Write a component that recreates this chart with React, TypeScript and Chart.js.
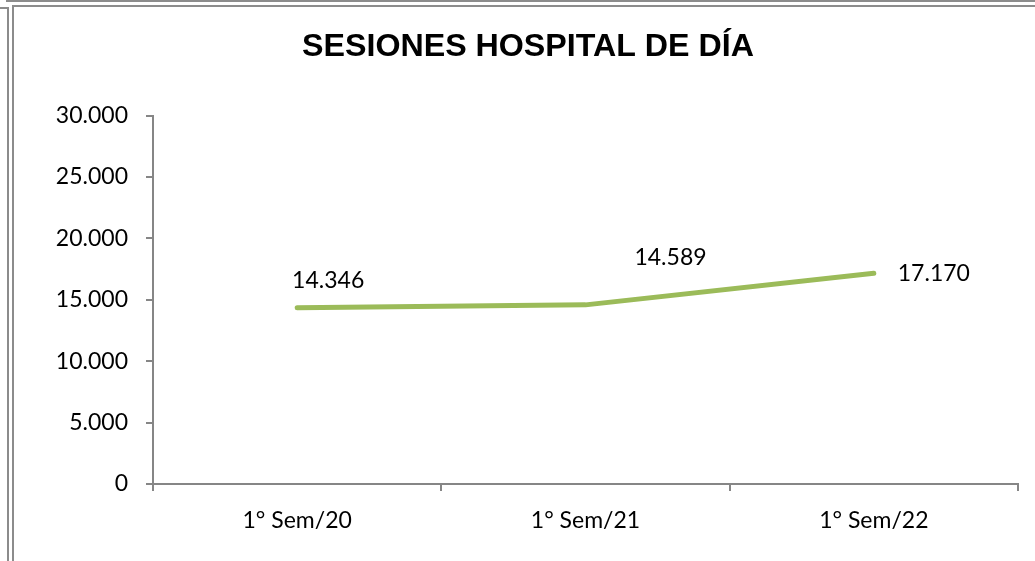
import React, { useEffect, useRef } from "react";
import { Chart, registerables } from "chart.js";

Chart.register(...registerables);

const categories = ["1° Sem/20", "1° Sem/21", "1° Sem/22"];
const sesiones = [14346, 14589, 17170];
const yTicks = [0, 5000, 10000, 15000, 20000, 25000, 30000];
const labelOffsets = [
  [31, -27],
  [85, -47],
  [60, 0],
];

const fmt = (v: number) => {
  const s = Math.round(v).toString();
  return s.replace(/\B(?=(\d{3})+(?!\d))/g, ".");
};

const FONT = "Lato, 'Open Sans', sans-serif";

const dataLabels = {
  id: "dataLabels",
  afterDatasetsDraw(chart: any) {
    const ctx = chart.ctx;
    const meta = chart.getDatasetMeta(0);
    ctx.save();
    ctx.font = `23px ${FONT}`;
    ctx.fillStyle = "#000";
    ctx.textAlign = "center";
    ctx.textBaseline = "middle";
    meta.data.forEach((pt: any, i: number) => {
      const [dx, dy] = labelOffsets[i];
      ctx.fillText(fmt(sesiones[i]), pt.x + dx, pt.y + dy);
    });
    ctx.restore();
  },
};

export default function App() {
  const ref = useRef<HTMLCanvasElement>(null);
  useEffect(() => {
    if (!ref.current) return;
    const chart = new Chart(ref.current, {
      type: "line",
      data: {
        labels: categories,
        datasets: [
          {
            data: sesiones,
            borderColor: "#9BBB59",
            borderWidth: 5,
            borderCapStyle: "round",
            borderJoinStyle: "round",
            pointRadius: 0,
            tension: 0,
            fill: false,
          },
        ],
      },
      options: {
        animation: false,
        responsive: false,
        maintainAspectRatio: false,
        layout: { padding: { left: 38, right: 17, top: 0, bottom: 0 } },
        plugins: {
          legend: { display: false },
          tooltip: { enabled: false },
          title: {
            display: true,
            text: "SESIONES HOSPITAL DE DÍA",
            color: "#000",
            font: { family: "'Liberation Sans', Arial, sans-serif", size: 32.2, weight: "bold", lineHeight: 1.2 },
            padding: { top: 28, bottom: 49 },
          },
        },
        scales: {
          x: {
            type: "category",
            offset: true,
            grid: {
              offset: true,
              drawOnChartArea: false,
              drawTicks: true,
              tickLength: 7,
              color: "#868686",
              lineWidth: 2,
            },
            border: { display: true, color: "#868686", width: 2 },
            ticks: {
              color: "#000",
              font: { family: FONT, size: 23 },
              padding: 16,
              maxRotation: 0,
            },
            afterFit: (s: any) => {
              s.height = 77;
            },
          },
          y: {
            min: 0,
            max: 30000,
            afterBuildTicks: (s: any) => {
              s.ticks = yTicks.map((v) => ({ value: v }));
            },
            grid: {
              drawOnChartArea: false,
              drawTicks: true,
              tickLength: 7,
              color: "#868686",
              lineWidth: 2,
            },
            border: { display: true, color: "#868686", width: 2 },
            ticks: {
              color: "#000",
              font: { family: FONT, size: 23 },
              padding: 18,
              callback: (v: any) => fmt(Number(v)),
            },
            afterFit: (s: any) => {
              s.width = 153 - 38;
            },
          },
        },
      },
      plugins: [dataLabels],
    });
    return () => chart.destroy();
  }, []);

  const line = (style: React.CSSProperties) => (
    <div style={{ position: "absolute", background: "#8c8c8c", ...style }} />
  );

  return (
    <div style={{ position: "fixed", left: 0, top: 0, width: 1035, height: 561, background: "#fff", overflow: "hidden" }}>
      <canvas ref={ref} width={1035} height={561} style={{ position: "absolute", left: 0, top: 0, width: 1035, height: 561 }} />
      {line({ left: 6, top: 0, width: 1029, height: 2 })}
      {line({ left: 0, top: 7, width: 9, height: 2 })}
      {line({ left: 7, top: 7, width: 2, height: 554 })}
      {line({ left: 12, top: 5, width: 1023, height: 2 })}
      {line({ left: 12, top: 5, width: 2, height: 556 })}
    </div>
  );
}
